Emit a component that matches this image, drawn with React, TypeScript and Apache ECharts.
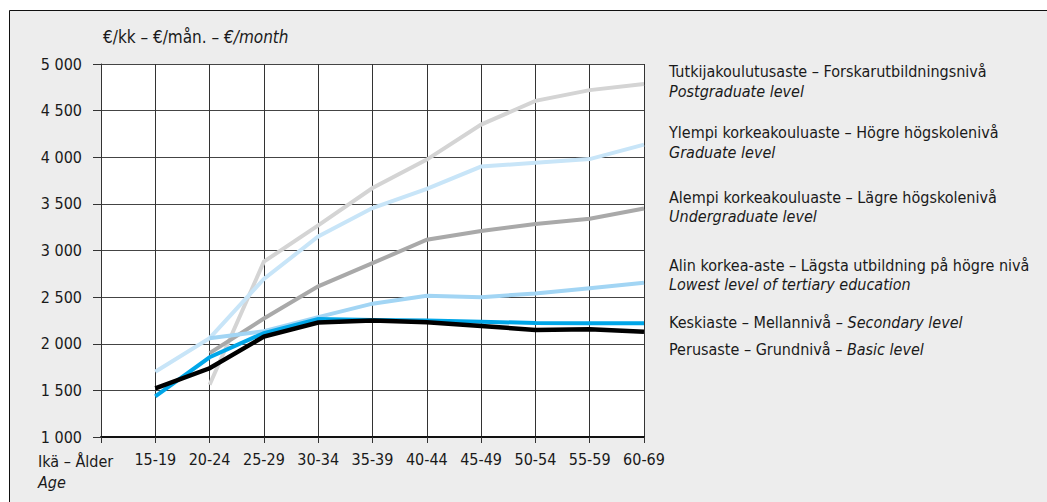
import React, { useEffect, useRef } from "react";
import * as echarts from "echarts";

const categories = ["15-19", "20-24", "25-29", "30-34", "35-39", "40-44", "45-49", "50-54", "55-59", "60-69"];
const postgraduate = [null, 1560, 2880, 3270, 3670, 3975, 4350, 4605, 4720, 4785];
const graduate = [1700, 2060, 2695, 3150, 3455, 3660, 3900, 3940, 3980, 4135];
const undergraduate = [null, 1900, 2270, 2615, 2865, 3115, 3210, 3285, 3340, 3450];
const lowestTertiary = [null, 2060, 2135, 2285, 2430, 2515, 2500, 2540, 2595, 2655];
const secondary = [1435, 1855, 2115, 2265, 2255, 2248, 2237, 2222, 2220, 2220];
const basic = [1522, 1737, 2076, 2228, 2250, 2230, 2190, 2148, 2155, 2130];

const FONT = '"DejaVu Sans Condensed", "Liberation Sans Narrow", sans-serif';
const TXT = "#1a1a1a";

function fmt(v: number) {
  const s = String(v);
  return s.length > 3 ? s.slice(0, s.length - 3) + " " + s.slice(-3) : s;
}

export default function App() {
  const ref = useRef<HTMLDivElement>(null);
  useEffect(() => {
    if (!ref.current) return;
    const chart = echarts.init(ref.current, null, { renderer: "svg" });
    const mk = (name: string, data: (number | null)[], color: string, z: number, width = 4) => ({
      name,
      type: "line",
      data: [null, ...data],
      symbol: "none",
      z,
      lineStyle: { color, width, join: "miter" },
      connectNulls: false,
    });
    const plain = (x: number, y: number, text: string, italic = false, size = 16) => ({
      type: "text",
      x,
      y,
      style: {
        text,
        font: `${italic ? "italic " : ""}${size}px ${FONT}`,
        fill: TXT,
        verticalAlign: "middle",
      },
    });
    const it = { fontStyle: "italic", fontSize: 16, fontFamily: FONT, fill: TXT };
    const nm = { fontSize: 16, fontFamily: FONT, fill: TXT };
    const it17 = { ...it, fontSize: 17 };
    const nm17 = { ...nm, fontSize: 17 };
    chart.setOption({
      animation: false,
      backgroundColor: "#ffffff",
      graphic: [
        {
          type: "rect",
          z: -10,
          shape: { x: 9.5, y: 10.5, width: 1100, height: 600 },
          style: { fill: "#ededed", stroke: "#111", lineWidth: 1 },
        },
        {
          type: "text",
          x: 103,
          y: 37,
          style: {
            text: "{n|€/kk – €/mån. – }{i|€/month}",
            verticalAlign: "middle",
            rich: { n: nm17, i: it17 },
          },
        },
        plain(38, 461, "Ikä – Ålder"),
        plain(38, 482, "Age", true),
        plain(669, 71, "Tutkijakoulutusaste – Forskarutbildningsnivå"),
        plain(669, 91, "Postgraduate level", true),
        plain(669, 132, "Ylempi korkeakouluaste – Högre högskolenivå"),
        plain(669, 152, "Graduate level", true),
        plain(669, 197, "Alempi korkeakouluaste – Lägre högskolenivå"),
        plain(669, 216, "Undergraduate level", true),
        plain(669, 265, "Alin korkea-aste – Lägsta utbildning på högre nivå"),
        plain(669, 284, "Lowest level of tertiary education", true),
        {
          type: "text",
          x: 669,
          y: 322,
          style: { text: "{n|Keskiaste – Mellannivå – }{i|Secondary level}", verticalAlign: "middle", rich: { n: nm, i: it } },
        },
        {
          type: "text",
          x: 669,
          y: 349,
          style: { text: "{n|Perusaste – Grundnivå – }{i|Basic level}", verticalAlign: "middle", rich: { n: nm, i: it } },
        },
      ],
      grid: {
        left: 101,
        top: 64,
        right: 1047 - 644,
        bottom: 502 - 437,
        show: true,
        backgroundColor: "#ffffff",
        borderWidth: 0,
      },
      xAxis: {
        type: "category",
        boundaryGap: false,
        data: ["", ...categories],
        axisLine: { show: true, lineStyle: { color: "#111", width: 2 } },
        axisTick: { show: true, length: 6, lineStyle: { color: "#333", width: 1 } },
        axisLabel: { color: TXT, fontSize: 16, fontFamily: FONT, margin: 14, interval: 0 },
        splitLine: { show: true, interval: 0, lineStyle: { color: "#333", width: 1 } },
      },
      yAxis: {
        type: "value",
        min: 1000,
        max: 5000,
        interval: 500,
        axisLine: { show: true, lineStyle: { color: "#333", width: 1 } },
        axisTick: { show: true, length: 8, lineStyle: { color: "#333", width: 1 } },
        axisLabel: { color: TXT, fontSize: 16, fontFamily: FONT, margin: 19, formatter: (v: number) => fmt(v) },
        splitLine: { show: true, lineStyle: { color: "#444", width: 1 } },
      },
      series: [
        mk("Postgraduate", postgraduate, "#d4d4d4", 2),
        mk("Graduate", graduate, "#c8e5f8", 3),
        mk("Undergraduate", undergraduate, "#a9a9a9", 4),
        mk("Lowest tertiary", lowestTertiary, "#a2d5f4", 5),
        mk("Secondary", secondary, "#00a6e8", 6),
        mk("Basic", basic, "#000000", 7, 4.5),
      ],
    });
    return () => chart.dispose();
  }, []);
  return <div ref={ref} style={{ position: "absolute", left: 0, top: 0, width: 1047, height: 502 }} />;
}
